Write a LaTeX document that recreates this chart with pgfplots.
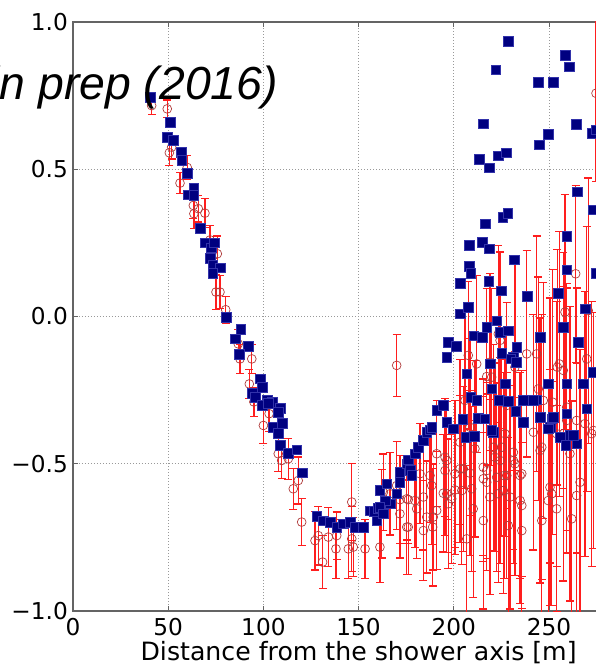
\documentclass[border=0pt]{standalone}
\usepackage{fontspec}
\setmainfont{DejaVu Sans}
\newfontfamily\titlefont{Liberation Sans}
\usepackage{pgfplots}
\usepackage{pgfplotstable}
\pgfplotsset{compat=1.18}
\definecolor{navyblue}{RGB}{0,0,128}
\definecolor{navyedge}{RGB}{50,50,170}
\definecolor{circ}{RGB}{175,60,60}
\definecolor{spine}{RGB}{100,100,100}
\definecolor{ebar}{RGB}{255,30,30}

\pgfplotstableread{
x y
40.5 0.744
51.0 0.659
49.4 0.608
52.5 0.598
56.7 0.557
57.2 0.530
59.9 0.486
63.5 0.435
60.4 0.414
63.5 0.411
66.7 0.299
69.3 0.251
72.5 0.234
74.1 0.251
72.0 0.197
73.5 0.173
77.2 0.166
73.5 0.146
80.4 -0.003
88.2 -0.044
85.1 -0.075
91.9 -0.102
87.2 -0.129
98.2 -0.211
99.3 -0.241
94.0 -0.261
95.6 -0.275
101.9 -0.285
104.5 -0.292
99.3 -0.302
102.4 -0.295
108.7 -0.312
107.7 -0.326
105.0 -0.377
109.8 -0.363
107.7 -0.397
108.7 -0.438
112.9 -0.465
117.6 -0.452
120.3 -0.530
128.0 -0.679
131.5 -0.693
135.0 -0.698
138.5 -0.715
142.0 -0.704
145.5 -0.698
148.1 -0.715
152.5 -0.715
156.0 -0.659
158.0 -0.662
159.5 -0.693
160.2 -0.652
161.2 -0.591
164.8 -0.568
166.5 -0.636
163.9 -0.625
161.2 -0.648
163.0 -0.670
170.0 -0.602
171.7 -0.529
171.7 -0.563
175.3 -0.500
177.0 -0.523
177.9 -0.540
176.1 -0.487
179.6 -0.466
181.4 -0.444
184.0 -0.421
185.8 -0.393
187.5 -0.385
188.4 -0.376
191.0 -0.319
194.5 -0.302
196.3 -0.359
199.7 -0.381
196.3 -0.138
197.1 -0.087
201.2 -0.102
203.3 0.009
207.6 0.032
210.4 -0.065
214.9 -0.070
217.3 -0.036
222.5 -0.014
224.3 -0.053
228.6 -0.048
233.0 -0.104
231.3 -0.138
229.9 -0.144
225.1 -0.125
219.0 -0.161
232.7 -0.155
206.8 -0.195
219.9 -0.246
226.9 -0.229
209.0 -0.275
212.0 -0.285
204.6 -0.349
212.7 -0.345
216.2 -0.347
206.3 -0.410
210.7 -0.407
220.8 -0.393
219.9 -0.387
223.9 -0.285
228.6 -0.288
232.6 -0.322
236.4 -0.284
236.5 -0.360
243.2 -0.283
245.3 -0.070
241.8 -0.285
245.3 -0.342
249.6 -0.229
250.5 -0.376
251.4 -0.347
249.6 -0.381
252.3 -0.342
255.8 -0.410
258.9 -0.438
261.0 -0.404
264.5 -0.432
257.5 -0.036
259.3 -0.229
259.3 -0.330
262.8 -0.404
265.4 -0.087
268.0 -0.229
268.9 0.026
269.8 -0.313
273.3 -0.189
228.6 0.935
222.0 0.838
215.5 0.654
213.4 0.534
218.5 0.505
223.4 0.546
227.4 0.556
244.4 0.795
252.1 0.795
258.4 0.887
260.5 0.848
244.9 0.583
249.6 0.618
264.3 0.653
272.6 0.622
274.7 0.634
264.7 0.423
273.3 0.363
259.3 0.272
259.3 0.159
254.9 0.079
208.1 0.242
215.0 0.252
218.6 0.230
216.4 0.315
225.8 0.337
228.3 0.351
231.6 0.193
208.1 0.171
209.0 0.147
203.4 0.113
218.3 0.120
224.9 0.088
238.6 0.068
274.7 0.147
}\bluedata

\pgfplotstableread{
x y e
41.3 0.716 0.031
49.5 0.705 0.030
50.6 0.556 0.042
51.8 0.575 0.040
56.2 0.453 0.035
60.0 0.506 0.040
63.2 0.377 0.045
63.5 0.349 0.050
65.8 0.366 0.045
69.3 0.351 0.050
72.0 0.260 0.050
73.7 0.207 0.050
75.8 0.213 0.060
75.1 0.083 0.060
77.2 0.083 0.055
80.2 0.023 0.045
86.8 -0.093 0.050
87.7 -0.144 0.050
93.9 -0.144 0.050
92.6 -0.229 0.050
95.0 -0.290 0.050
100.0 -0.370 0.060
103.0 -0.330 0.060
107.8 -0.466 0.060
109.6 -0.489 0.060
113.1 -0.483 0.070
118.3 -0.557 0.080
115.7 -0.585 0.070
120.1 -0.698 0.080
127.1 -0.761 0.100
128.8 -0.744 0.100
131.1 -0.834 0.090
134.1 -0.749 0.100
138.5 -0.744 0.080
138.1 -0.789 0.100
144.6 -0.789 0.100
146.4 -0.630 0.130
146.4 -0.755 0.110
147.2 -0.783 0.100
153.4 -0.789 0.100
161.2 -0.783 0.120
162.1 -0.670 0.150
163.0 -0.597 0.130
166.5 -0.602 0.140
170.0 -0.166 0.105
170.0 -0.574 0.150
171.7 -0.670 0.150
171.7 -0.622 0.150
175.3 -0.715 0.160
175.3 -0.619 0.140
176.1 -0.622 0.150
176.1 -0.715 0.160
179.6 -0.625 0.160
180.5 -0.653 0.170
184.0 -0.613 0.180
182.2 -0.534 0.170
184.0 -0.727 0.170
185.8 -0.681 0.190
187.5 -0.540 0.160
188.4 -0.574 0.200
188.9 -0.715 0.200
189.2 -0.681 0.180
191.0 -0.659 0.200
191.0 -0.466 0.180
194.5 -0.600 0.200
195.4 -0.478 0.200
195.4 -0.523 0.220
196.3 -0.602 0.200
196.3 -0.489 0.200
197.1 -0.636 0.220
198.9 -0.619 0.220
200.6 -0.534 0.250
200.6 -0.589 0.220
203.3 -0.427 0.280
203.3 -0.517 0.250
204.2 -0.591 0.250
205.0 -0.517 0.280
205.9 -0.285 0.300
206.8 -0.755 0.250
207.6 -0.132 0.250
208.5 -0.376 0.300
208.5 -0.532 0.280
209.4 -0.585 0.280
210.2 -0.653 0.300
211.1 -0.449 0.300
212.0 -0.161 0.300
215.5 -0.693 0.300
215.5 -0.551 0.280
215.5 -0.512 0.300
217.3 -0.523 0.300
217.3 -0.204 0.300
217.3 -0.563 0.300
219.0 -0.613 0.330
219.0 -0.155 0.300
219.9 -0.206 0.300
220.8 -0.444 0.350
221.6 -0.478 0.320
222.5 -0.546 0.320
223.4 -0.602 0.300
223.4 -0.059 0.300
224.3 -0.489 0.350
224.3 -0.081 0.300
225.1 -0.444 0.300
226.0 -0.591 0.350
226.4 -0.540 0.350
226.9 -0.398 0.350
227.8 -0.302 0.350
227.8 -0.540 0.350
228.6 -0.710 0.300
229.5 -0.613 0.380
231.3 -0.461 0.330
231.3 -0.489 0.350
232.1 -0.500 0.380
232.1 -0.172 0.350
234.8 -0.540 0.350
234.8 -0.625 0.350
235.7 -0.727 0.300
235.7 -0.534 0.350
235.7 -0.642 0.350
238.3 -0.127 0.350
241.8 -0.393 0.400
243.5 -0.127 0.400
244.4 -0.246 0.380
245.3 -0.455 0.450
246.2 -0.693 0.350
246.2 -0.444 0.450
247.0 -0.285 0.400
249.6 -0.625 0.400
250.5 -0.387 0.450
250.5 -0.580 0.400
251.4 -0.602 0.380
251.9 -0.291 0.450
254.0 -0.398 0.450
254.0 -0.653 0.350
254.4 -0.172 0.400
255.4 -0.161 0.450
257.5 -0.183 0.400
257.5 -0.398 0.500
258.4 0.015 0.400
259.3 -0.308 0.420
259.3 -0.353 0.450
261.0 -0.466 0.500
261.9 -0.687 0.400
264.0 0.145 0.300
264.5 -0.353 0.450
264.5 -0.608 0.450
266.3 -0.563 0.450
268.9 -0.364 0.450
269.8 -0.144 0.450
270.6 0.020 0.450
272.4 -0.398 0.450
273.3 -0.387 0.400
274.7 0.758 0.300
}\reddata

\begin{document}
\begin{tikzpicture}
\begin{axis}[
  name=ax,
  at={(0,0)}, anchor=south west,
  scale only axis,
  width=571.2bp, height=589bp,
  xmin=0, xmax=300, ymin=-1, ymax=1,
  xtick={0,50,100,150,200,250,300},
  xticklabels={0,50,100,150,200,250,300},
  ytick={-1,-0.5,0,0.5,1},
  yticklabels={−1.0,−0.5,0.0,0.5,1.0},
  grid=major,
  major grid style={draw=gray!80, dash pattern=on 1bp off 2bp, line width=0.8bp},
  tick align=inside,
  major tick length=5bp,
  axis line style={draw=spine, line width=1.2bp},
  tick style={draw=spine, line width=0.8bp},
  xticklabel style={font=\fontsize{23.3}{23.3}\selectfont, anchor=base, inner sep=0pt, yshift=-24bp},
  yticklabel style={font=\fontsize{23.3}{23.3}\selectfont, anchor=east, inner sep=0pt, xshift=-5bp},
  xlabel={Distance from the shower axis [m]},
  xlabel style={font=\fontsize{25.3}{25.3}\selectfont, at={(axis description cs:0.5,0)}, anchor=base, inner sep=0pt, yshift=-49bp},
]
\addplot[
  color=circ,
  only marks, mark=o, mark size=4.4bp,
  mark options={line width=0.7bp},
  error bars/.cd, y dir=both, y explicit,
  error mark=-,
  error bar style={draw=ebar, line width=1.4bp},
  error mark options={draw=ebar, line width=1.2bp, mark size=4bp, rotate=90},
] table[x=x, y=y, y error=e] {\reddata};
\addplot[
  color=navyblue,
  only marks, mark=square*, mark size=4.8bp,
  mark options={fill=navyblue, draw=navyedge, line width=0.5bp},
] table[x=x, y=y] {\bluedata};
\end{axis}
\node[anchor=base east, inner sep=0pt, font=\titlefont\itshape\fontsize{46.5}{46.5}\selectfont] at ([shift={(205bp,511bp)}]ax.south west) {in prep (2016)};
\pgfresetboundingbox
\path[use as bounding box] ([shift={(-73bp,-56bp)}]ax.south west) rectangle ([shift={(523bp,611bp)}]ax.south west);
\end{tikzpicture}
\end{document}
